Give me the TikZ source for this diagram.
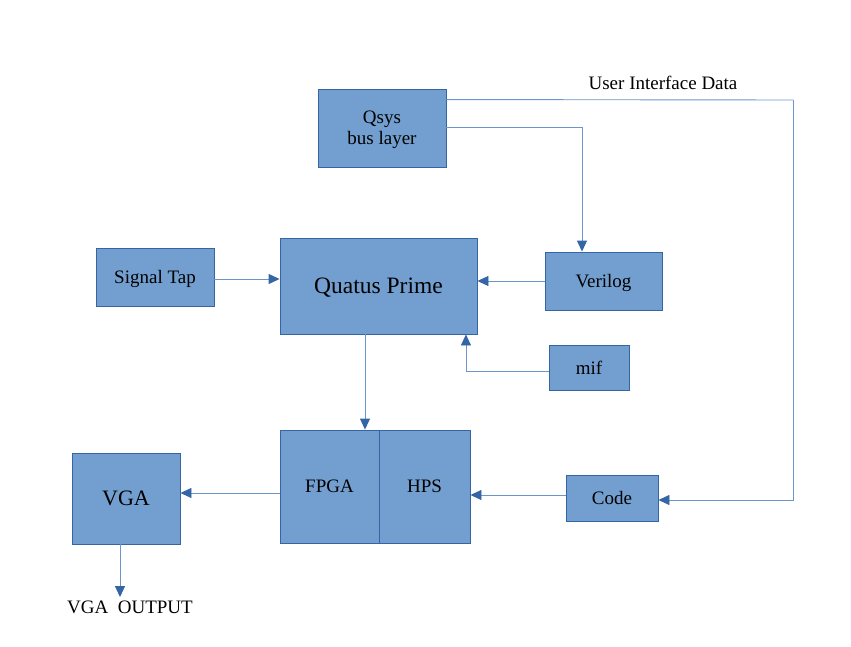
\documentclass[tikz,border=0pt]{standalone}
\usepackage{fontspec}
\setmainfont{Liberation Serif}
\usetikzlibrary{arrows.meta}
\definecolor{boxfill}{HTML}{729FCF}
\definecolor{boxline}{HTML}{3465A4}
\definecolor{wire}{HTML}{6B95CB}
\tikzset{
  blk/.style={rectangle,draw=boxline,fill=boxfill,line width=0.9pt,inner sep=0pt,
    text depth=0pt,font=\fontsize{19}{21}\selectfont,align=center},
  link/.style={line width=0.9pt,color=wire,-{Triangle[length=11pt,width=10pt,color=boxline]}},
  wire/.style={line width=0.9pt,color=wire}
}
\begin{document}
\begin{tikzpicture}[x=1pt,y=-1pt]
  \useasboundingbox (0,0) rectangle (851,647);
  % boxes
  \node (qsys) [blk,minimum width=128pt,minimum height=78pt] at (382,128) {Qsys\\bus layer};
  \node (tap) [blk,minimum width=118pt,minimum height=58pt] at (155,277) {Signal Tap};
  \node (quatus) [blk,minimum width=197pt,minimum height=96pt,font=\fontsize{23.5}{26}\selectfont] at (378.5,286) {Quatus Prime};
  \node (verilog) [blk,minimum width=117pt,minimum height=58pt] at (603.5,281) {Verilog};
  \node (mif) [blk,minimum width=80pt,minimum height=45pt] at (589,367.5) {mif};
  \node (fpga) [blk,minimum width=99pt,minimum height=113pt] at (329.5,486.5) {FPGA};
  \node (hps) [blk,minimum width=91pt,minimum height=113pt] at (424.5,486.5) {HPS};
  \node (vga) [blk,minimum width=108pt,minimum height=91pt,font=\fontsize{22}{24}\selectfont] at (126,498.5) {VGA};
  \node (code) [blk,minimum width=92pt,minimum height=46pt] at (612,498) {Code};
  % labels
  \node (ui) [font=\fontsize{19}{21}\selectfont] at (663,83) {User Interface Data};
  \node (out) [font=\fontsize{19}{21}\selectfont] at (130,607) {VGA\ \ OUTPUT};
  \coordinate (uiturn) at (793,100);
  % connectors
  \draw [wire] ([yshift=-11pt]qsys.north east) -- (uiturn);
  \draw [link] (uiturn) |- ([yshift=-2pt]code.east);
  \draw [link] ([yshift=1pt]qsys.east) -| ([xshift=-21.5pt]verilog.north);
  \draw [link] ([yshift=-2pt]tap.east) -- ([yshift=-2pt]tap.east -| quatus.west);
  \draw [link] (verilog.west) -- (verilog.west -| quatus.east);
  \draw [link] ([yshift=-3.5pt]mif.west) -| ([xshift=-11.5pt]quatus.south east);
  \draw [link] ([xshift=-13.5pt]quatus.south) -- ([xshift=-13.5pt]quatus.south |- fpga.north);
  \draw [link] ([yshift=-6.5pt]fpga.west) -- ([yshift=-6.5pt]fpga.west -| vga.east);
  \draw [link] ([yshift=3pt]code.west) -- ([yshift=3pt]code.west -| hps.east);
  \draw [link] ([xshift=-6pt]vga.south) -- ([xshift=-6pt]vga.south |- out.north);
\end{tikzpicture}
\end{document}
